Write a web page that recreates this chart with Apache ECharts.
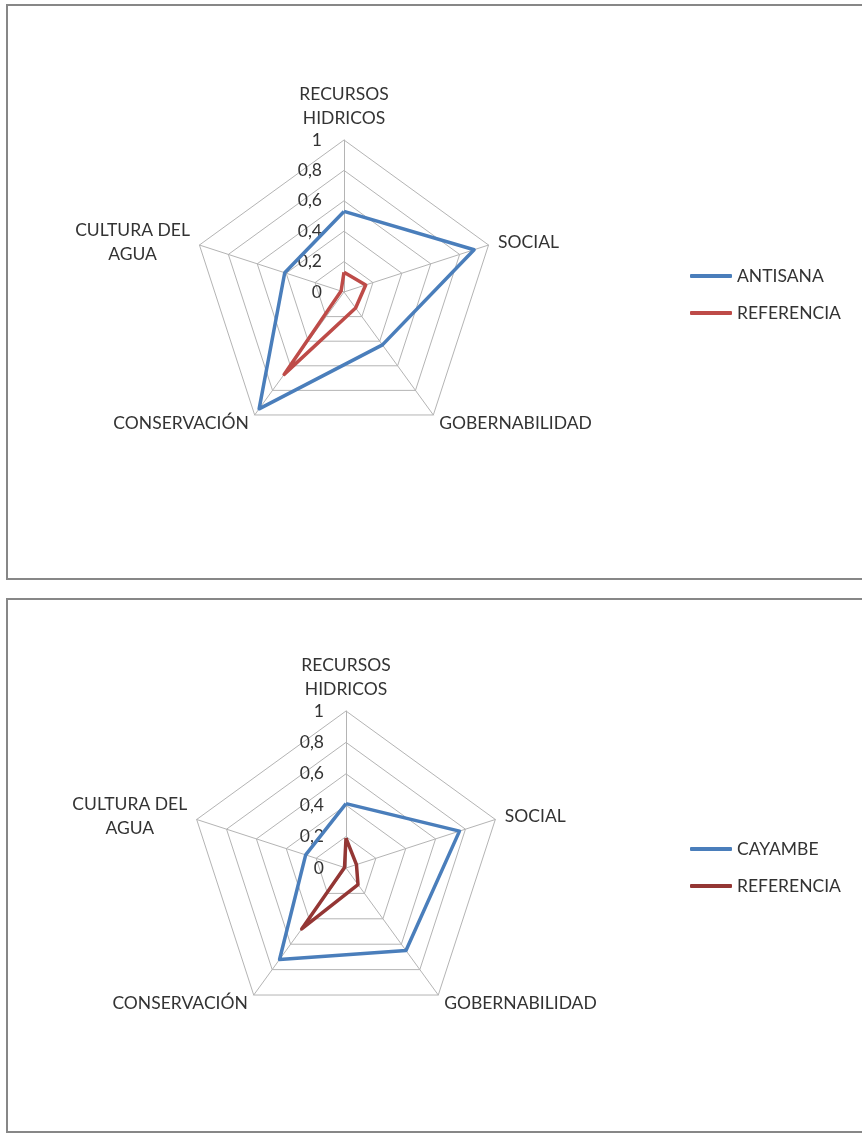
<!DOCTYPE html>
<html>
<head>
<meta charset="utf-8">
<script src="https://cdn.jsdelivr.net/npm/echarts@6/dist/echarts.min.js"></script>
<style>
  html, body { margin: 0; padding: 0; background: #ffffff; }
  #chart { width: 862px; height: 1135px; }
</style>
</head>
<body>
<div id="chart"></div>
<script>
// Axes of both radars (same five dimensions), listed clockwise from the top
const dimensions = ['RECURSOS\nHIDRICOS', 'SOCIAL', 'GOBERNABILIDAD', 'CONSERVACIÓN', 'CULTURA DEL\nAGUA'];
const tickLabels = ['0', '0,2', '0,4', '0,6', '0,8', '1'];

// Upper radar
const antisana = [0.53, 0.90, 0.43, 0.95, 0.41];
const referenciaA = [0.13, 0.15, 0.13, 0.67, 0.02];

// Lower radar
const cayambe = [0.41, 0.76, 0.65, 0.72, 0.27];
const referenciaC = [0.19, 0.07, 0.13, 0.48, 0.01];

// ECharts lays radar axes out counter-clockwise, so feed them in reverse
// (keeping the first one on top) to get a clockwise arrangement.
const order = [0, 4, 3, 2, 1];
function reorder(arr) { return order.map(function (i) { return arr[i]; }); }

const FONT = 'Lato';
const FS = 17.5;
const TEXT = '#333333';
const GRID = '#b4b4b4';

function indicators() {
  return reorder(dimensions).map(function (name, i) {
    const ind = { name: name, min: 0, max: 1 };
    if (i === 0) {
      ind.axisLabel = {
        show: true,
        margin: 22,
        color: TEXT,
        fontFamily: FONT,
        fontSize: FS,
        formatter: function (v) { return tickLabels[Math.round(v / 0.2)]; }
      };
    }
    return ind;
  });
}

function radarOpt(center, radius) {
  return {
    center: center,
    radius: radius,
    startAngle: 90,
    splitNumber: 5,
    shape: 'polygon',
    indicator: indicators(),
    axisName: {
      color: TEXT,
      fontFamily: FONT,
      fontSize: FS,
      formatter: function (name) {
        return name.split('\n').map(function (s) { return '{c|' + s + '}'; }).join('\n');
      },
      rich: { c: { align: 'center', color: TEXT, fontFamily: FONT, fontSize: FS, lineHeight: 24 } }
    },
    nameGap: 10,
    axisLine: { lineStyle: { color: GRID, width: 1 } },
    splitLine: { lineStyle: { color: GRID, width: 1 } },
    splitArea: { show: false },
    axisTick: { show: false },
    axisLabel: { show: false }
  };
}

function legendOpt(top, names, colors) {
  return {
    orient: 'vertical',
    left: 685,
    top: top,
    icon: 'roundRect',
    itemWidth: 42,
    itemHeight: 4,
    itemGap: 19,
    selectedMode: false,
    textStyle: { color: TEXT, fontFamily: FONT, fontSize: FS },
    data: names.map(function (n, i) { return { name: n, itemStyle: { color: colors[i] } }; })
  };
}

function line(name, radarIndex, values, color) {
  return {
    type: 'radar',
    name: name,
    radarIndex: radarIndex,
    symbol: 'none',
    color: color,
    lineStyle: { color: color, width: 3.5 },
    data: [{ name: name, value: reorder(values) }]
  };
}

const BLUE = '#4a7ebb';
const RED = '#be4b48';
const DARK_RED = '#943634';

const chart = echarts.init(document.getElementById('chart'), null, { renderer: 'canvas' });
chart.setOption({
  animation: false,
  backgroundColor: '#ffffff',
  graphic: [
    { type: 'rect', shape: { x: 7, y: 5, width: 870, height: 574 }, style: { fill: 'none', stroke: '#878787', lineWidth: 2 } },
    { type: 'rect', shape: { x: 7, y: 599, width: 870, height: 533 }, style: { fill: 'none', stroke: '#878787', lineWidth: 2 } }
  ],
  radar: [radarOpt([344, 292], 152), radarOpt([346, 868], 157)],
  legend: [
    legendOpt(262, ['ANTISANA', 'REFERENCIA'], [BLUE, RED]),
    legendOpt(835, ['CAYAMBE', 'REFERENCIA'], [BLUE, DARK_RED])
  ],
  series: [
    line('ANTISANA', 0, antisana, BLUE),
    line('REFERENCIA', 0, referenciaA, RED),
    line('CAYAMBE', 1, cayambe, BLUE),
    line('REFERENCIA', 1, referenciaC, DARK_RED)
  ]
});
</script>
</body>
</html>
